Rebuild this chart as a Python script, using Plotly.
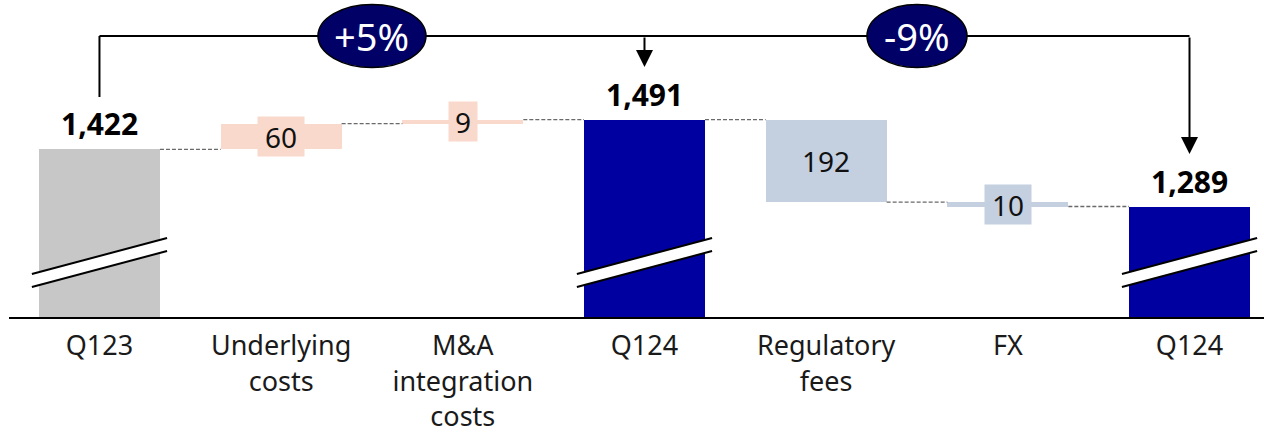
import plotly.graph_objects as go

# ---- data ----
categories = ["Q123", "Underlying<br>costs", "M&A<br>integration<br>costs", "Q124",
              "Regulatory<br>fees", "FX", "Q124"]
values = [1422, 60, 9, 1491, -192, -10, 1289]
kinds = ["total", "delta", "delta", "total", "delta", "delta", "total"]
bar_colors = ["#C8C7C8", "#F9D9CB", "#F9D9CB", "#0000A0", "#C4CFE0", "#C4CFE0", "#0000A0"]
pct_labels = ["+5%", "-9%"]
pct_pos = [1.5, 4.5]

FONT = "Noto Sans"
W, H = 1264, 434
ML, MB = 9, 117
PH = H - MB  # plot height
Y0, Y1 = 1032, 1769.4
BW = 0.666

x = list(range(len(values)))
bases, heights, tops = [], [], []
running = 0
for v, k in zip(values, kinds):
    if k == "total":
        bases.append(0)
        heights.append(v)
        running = v
    else:
        bases.append(running)
        heights.append(v)
        running += v
    tops.append(running)

fig = go.Figure()
fig.add_trace(go.Bar(x=x, y=heights, base=bases, width=BW,
                     marker=dict(color=bar_colors, line=dict(width=0)),
                     hoverinfo="skip"))

def ypx(px):
    return Y0 + (PH - px) / PH * (Y1 - Y0)

shapes = []
annotations = []

# connectors
for i in range(len(values) - 1):
    shapes.append(dict(type="line", xref="x", yref="y",
                       x0=i + BW / 2, x1=i + 1 - BW / 2, y0=tops[i], y1=tops[i],
                       line=dict(color="#6a6a6a", width=1.3, dash="4px,2px")))

# labels
for i, (v, k) in enumerate(zip(values, kinds)):
    if k == "total":
        annotations.append(dict(x=i, y=v, xref="x", yref="y", text=f"<b>{v:,}</b>",
                                showarrow=False, xanchor="center", yanchor="bottom", yshift=3,
                                font=dict(family=FONT, size=30, color="#000000")))
    else:
        mid = bases[i] + v / 2
        txt = f"{abs(v)}"
        w = {1: 28, 2: 46, 3: 60}[len(txt)]
        annotations.append(dict(x=i, y=mid, xref="x", yref="y", text=txt,
                                showarrow=False, width=w, height=39,
                                xanchor="center", yanchor="middle",
                                bgcolor=bar_colors[i], borderpad=0,
                                font=dict(family=FONT, size=28, color="#111111")))

# axis break marks on total bars
for i, k in enumerate(kinds):
    if k != "total":
        continue
    xl, xr = i - 0.372, i + 0.372
    a, b, c, d = ypx(287), ypx(274), ypx(251), ypx(238)
    shapes.append(dict(type="path", xref="x", yref="y", layer="above",
                       path=f"M{xl},{a} L{xr},{c} L{xr},{d} L{xl},{b} Z",
                       fillcolor="white", line=dict(width=0)))
    shapes.append(dict(type="line", xref="x", yref="y", layer="above",
                       x0=xl, x1=xr, y0=a, y1=c, line=dict(color="black", width=2)))
    shapes.append(dict(type="line", xref="x", yref="y", layer="above",
                       x0=xl, x1=xr, y0=b, y1=d, line=dict(color="black", width=2)))

# bracket
top_p = 1 - 36 / PH
shapes.append(dict(type="line", xref="x", yref="paper", x0=0, x1=0,
                   y0=1 - 97 / PH, y1=top_p, line=dict(color="black", width=2)))
shapes.append(dict(type="line", xref="x", yref="paper", x0=0, x1=6,
                   y0=top_p, y1=top_p, line=dict(color="black", width=2)))
for xi, tip_px in [(3, 67), (6, 154)]:
    annotations.append(dict(x=xi, y=1 - tip_px / PH, xref="x", yref="paper",
                            ax=0, ay=-(tip_px - 36), axref="pixel", ayref="pixel",
                            showarrow=True, arrowhead=2, arrowsize=1.7, arrowwidth=2,
                            arrowcolor="black", text=""))

for lbl, xp, hw in zip(pct_labels, pct_pos, [54, 50]):
    shapes.append(dict(type="circle", xref="x", yref="paper", layer="above",
                       xsizemode="pixel", ysizemode="pixel",
                       xanchor=xp, yanchor=top_p, x0=-hw, x1=hw, y0=-31.5, y1=31.5,
                       fillcolor="#000066", line=dict(color="black", width=1.5)))
    annotations.append(dict(x=xp, y=top_p, xref="x", yref="paper", text=lbl,
                            showarrow=False, xanchor="center", yanchor="middle", yshift=0,
                            font=dict(family=FONT, size=38, color="white")))

fig.update_layout(
    width=W, height=H,
    margin=dict(l=ML, r=0, t=0, b=MB),
    plot_bgcolor="white", paper_bgcolor="white",
    showlegend=False, bargap=0,
    shapes=shapes, annotations=annotations,
    xaxis=dict(range=[-0.498, 6.41], tickmode="array", tickvals=x, ticktext=categories,
               showline=True, linecolor="black", linewidth=2, showgrid=False,
               zeroline=False, ticks="", fixedrange=True, ticklabelstandoff=4,
               tickfont=dict(family=FONT, size=27, color="#1a1a1a")),
    yaxis=dict(range=[Y0, Y1], visible=False, showgrid=False, zeroline=False,
               fixedrange=True),
)

fig.write_html("out.html", config={"displayModeBar": False},
               post_script="document.body.style.margin='0';")
